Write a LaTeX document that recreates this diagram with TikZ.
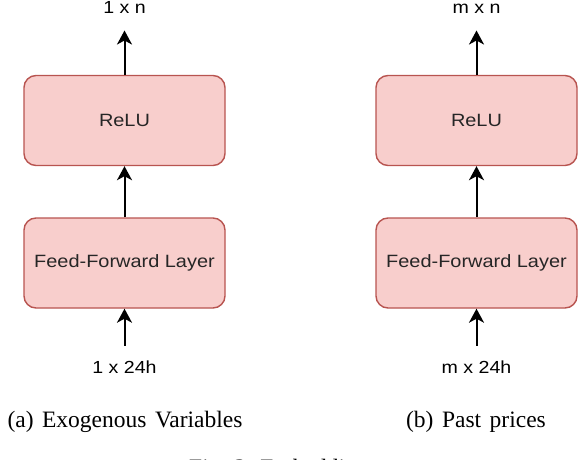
\documentclass[tikz,border=0pt]{standalone}
\usepackage{fontspec}
\setmainfont{Liberation Serif}
\newfontfamily\dio[FakeStretch=1.12]{Liberation Sans}
\usetikzlibrary{arrows.meta}
\definecolor{boxfill}{HTML}{F8CECC}
\definecolor{boxline}{HTML}{B85450}
\begin{document}
\begin{tikzpicture}[x=1pt,y=-1pt,
  layerbox/.style={draw=boxline, fill=boxfill, line width=1.4pt, rounded corners=12pt,
    minimum width=201pt, minimum height=90pt, inner sep=0pt,
    font=\dio\fontsize{17.8}{20}\selectfont, text=black!85},
  dimlabel/.style={font=\dio\fontsize{17.5}{20}\selectfont, anchor=base, inner sep=0pt},
  flow/.style={line width=2pt, -{Stealth[length=14pt,width=15pt,inset=4pt]}},
  caption/.style={font=\fontsize{23.5}{27}\selectfont, anchor=base, inner sep=0pt}]
\useasboundingbox (0,0) rectangle (578,460);
% left column
\node[layerbox] (relu1) at (124.5,120.5) {ReLU};
\node[layerbox] (ff1) at (124.5,263) {Feed-Forward Layer};
\coordinate (top1) at (124.5,30.5);
\coordinate (bot1) at (124.5,345.5);
\node[dimlabel] (out1) at (124.5,14) {1 x n};
\node[dimlabel] (in1) at (124.5,373) {1 x 24h};
\draw[flow] (relu1.north) -- (top1);
\draw[flow] (ff1.north) -- (relu1.south);
\draw[flow] (bot1) -- (ff1.south);
% right column
\node[layerbox] (relu2) at (476.5,120.5) {ReLU};
\node[layerbox] (ff2) at (476.5,263) {Feed-Forward Layer};
\coordinate (top2) at (476.5,30.5);
\coordinate (bot2) at (476.5,345.5);
\node[dimlabel] (out2) at (476.5,14) {m x n};
\node[dimlabel] (in2) at (476.5,373) {m x 24h};
\draw[flow] (relu2.north) -- (top2);
\draw[flow] (ff2.north) -- (relu2.south);
\draw[flow] (bot2) -- (ff2.south);
% captions
\node[caption] (capa) at (125,427.5) {\spaceskip=8.5pt (a) Exogenous Variables};
\node[caption] (capb) at (476,427.5) {\spaceskip=8.5pt (b) Past prices};
\node[caption, anchor=base west] (fig) at (189,475.5) {Fig. 3: Embeddings};
\end{tikzpicture}
\end{document}
